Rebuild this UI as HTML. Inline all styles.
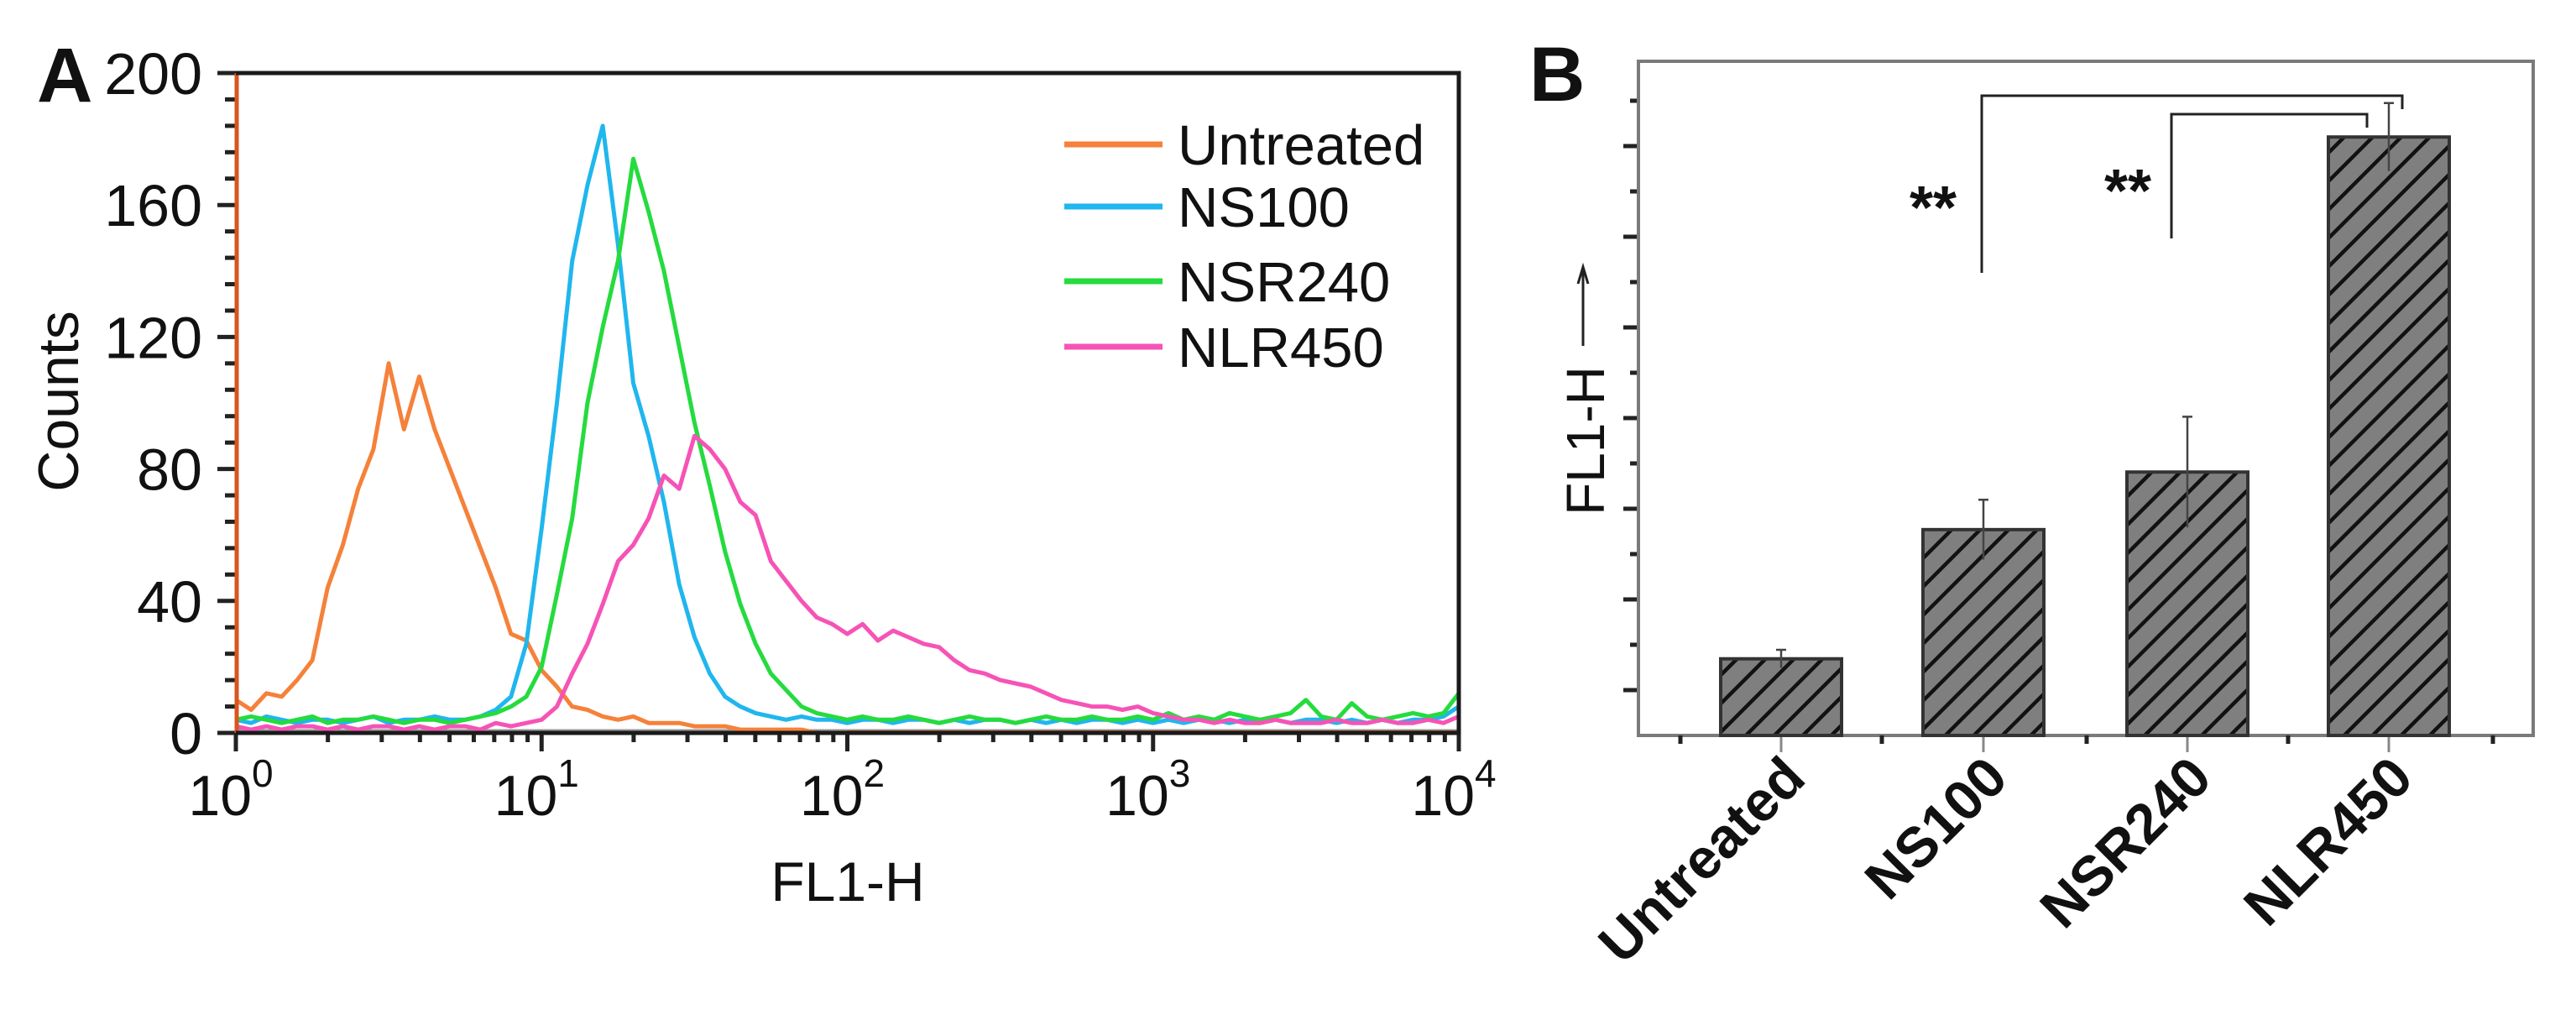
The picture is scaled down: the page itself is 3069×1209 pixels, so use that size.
<!DOCTYPE html>
<html><head><meta charset="utf-8"><style>
html,body{margin:0;padding:0;background:#fff;}
svg{display:block;}
text{font-family:"Liberation Sans",Arial,sans-serif;fill:#111;}
</style></head><body>
<svg id="fig" width="3069" height="1209" viewBox="0 0 3069 1209" xmlns="http://www.w3.org/2000/svg">
<defs>
<pattern id="hatch" patternUnits="userSpaceOnUse" width="24" height="24" patternTransform="rotate(45)">
<rect width="24" height="24" fill="#7f7f7f"/>
<line x1="0" y1="0" x2="0" y2="24" stroke="#111" stroke-width="9"/>
</pattern>
</defs>
<g id="panelA"></g>
<g id="panelB"></g>
</svg>
<script>
// ---------- Panel A data ----------
const logBins = [0,0.05,0.1,0.15,0.2,0.25,0.3,0.35,0.4,0.45,0.5,0.55,0.6,0.65,0.7,0.75,0.8,0.85,0.9,0.95,1,1.05,1.1,1.15,1.2,1.25,1.3,1.35,1.4,1.45,1.5,1.55,1.6,1.65,1.7,1.75,1.8,1.85,1.9,1.95,2,2.05,2.1,2.15,2.2,2.25,2.3,2.35,2.4,2.45,2.5,2.55,2.6,2.65,2.7,2.75,2.8,2.85,2.9,2.95,3,3.05,3.1,3.15,3.2,3.25,3.3,3.35,3.4,3.45,3.5,3.55,3.6,3.65,3.7,3.75,3.8,3.85,3.9,3.95,4];
const untreatedCounts = [10,7,12,11,16,22,44,57,74,86,112,92,108,92,80,68,56,44,30,28,19,14,8,7,5,4,5,3,3,3,2,2,2,1,1,1,1,1,0,0,0,0,0,0,0,0,0,0,0,0,0,0,0,0,0,0,0,0,0,0,0,0,0,0,0,0,0,0,0,0,0,0,0,0,0,0,0,0,0,0,0];
const ns100Counts = [4,3,5,4,3,4,4,3,4,5,3,4,4,5,4,4,5,7,11,27,62,100,143,166,184,148,106,90,70,45,29,18,11,8,6,5,4,5,4,4,3,4,4,3,4,4,3,4,3,4,4,3,4,3,4,3,4,4,3,4,3,4,3,4,4,3,4,3,4,3,4,4,3,4,3,4,3,4,4,5,8];
const nsr240Counts = [4,5,4,3,4,5,3,4,4,5,4,3,4,4,3,4,5,6,8,11,20,42,65,100,123,143,174,158,140,117,94,75,55,39,27,18,13,8,6,5,4,5,4,4,5,4,3,4,5,4,4,3,4,5,4,4,5,4,4,5,4,6,4,5,4,6,5,4,5,6,10,5,4,9,5,4,5,6,5,6,12];
const nlr450Counts = [2,1,2,1,2,2,1,2,1,2,2,1,2,1,2,2,1,3,2,3,4,8,18,27,39,52,57,65,78,74,90,86,80,70,66,52,46,40,35,33,30,33,28,31,29,27,26,22,19,18,16,15,14,12,10,9,8,8,7,8,6,5,4,4,3,4,3,3,4,3,3,3,4,3,3,4,3,3,4,3,5];
const seriesNames = ["Untreated","NS100","NSR240","NLR450"];
const countTicks = [0,40,80,120,160,200];
const decadeTicks = [0,1,2,3,4];

// ---------- Panel B data ----------
const barCategories = ["Untreated","NS100","NSR240","NLR450"];
const barValues = [1.69,4.54,5.81,13.2];
const barErrors = [0.2,0.66,1.22,0.75];
const sigLabels = ["**","**"];

const NS="http://www.w3.org/2000/svg";
function mk(tag,attrs,parent,txt){const e=document.createElementNS(NS,tag);for(const k in attrs)e.setAttribute(k,attrs[k]);if(txt!==undefined)e.textContent=txt;parent.appendChild(e);return e;}

// ===== Panel A =====
const A=document.getElementById('panelA');
const aL=281,aR=1738,aT=87,aB=873;
const xA=l=>aL+(aR-aL)*l/4;
const yA=c=>aB-(aB-aT)*c/200;

for(let v=0;v<=200;v+=8){
  const t=mk('line',{x1:(v%40===0)?aL-22:aL-13,x2:aL,y1:yA(v),y2:yA(v),stroke:'#222','stroke-width':5},A);
  
  
}
countTicks.forEach(v=>{
  const t=mk('text',{x:241,y:yA(v)+25,'text-anchor':'end','font-size':70},A,String(v));
  
  
});
for(let d=0;d<4;d++){
  for(let m=2;m<=9;m++){
    const l=d+Math.log10(m);
    const t=mk('line',{x1:xA(l),x2:xA(l),y1:aB,y2:aB+11,stroke:'#222','stroke-width':5},A);
    
    
  }
}
decadeTicks.forEach(d=>{
  const t=mk('line',{x1:xA(d),x2:xA(d),y1:aB,y2:aB+22,stroke:'#222','stroke-width':5},A);
  
  
  const tx=mk('text',{x:xA(d)-6,y:971,'text-anchor':'middle','font-size':68},A);
  
  
  mk('tspan',{},tx,'10');
  mk('tspan',{dy:-34,'font-size':46},tx,String(d));
});
const zl=mk('line',{x1:aL,x2:aR,y1:aB-2,y2:aB-2,stroke:'#999','stroke-width':5},A);



const colors=['#f5813a','#20b6ee','#25db3e','#f653b6'];
const allSeries=[untreatedCounts,ns100Counts,nsr240Counts,nlr450Counts];
allSeries.forEach((s,i)=>{
  const pts=logBins.map((l,j)=>xA(l).toFixed(1)+','+yA(s[j]).toFixed(1)).join(' ');
  const p=mk('polyline',{points:pts,fill:'none',stroke:colors[i],'stroke-width':5,'stroke-linejoin':'round'},A);
  
  
});
const ov=mk('line',{x1:aL+1,x2:aL+1,y1:aB,y2:aT,stroke:'#d9541e','stroke-width':5},A);


const ob=mk('line',{x1:xA(2),x2:aR,y1:aB-1,y2:aB-1,stroke:'#c9561f','stroke-width':4},A);



const fr=mk('path',{d:`M${aL},${aB} L${aR},${aB} L${aR},${aT} L${aL},${aT}`,fill:'none',stroke:'#1a1a1a','stroke-width':5},A);



const legY=[172,246,335,413];
seriesNames.forEach((n,i)=>{
  const g=mk('g',{},A);
  
  
  mk('line',{x1:1268,x2:1385,y1:legY[i],y2:legY[i],stroke:colors[i],'stroke-width':7},g);
  mk('text',{x:1403,y:legY[i]+24,'font-size':67},g,n);
});
let t;
t=mk('text',{x:44,y:121,'font-size':92,'font-weight':'bold'},A,'A');

t=mk('text',{x:1010,y:1073,'text-anchor':'middle','font-size':66},A,'FL1-H');

t=mk('text',{x:0,y:0,'text-anchor':'middle','font-size':68,transform:'translate(93,478) rotate(-90)'},A,'Counts');


// ===== Panel B =====
const B=document.getElementById('panelB');
const bL=1952,bR=3018,bT=73,bB=876;
const unit=54;
const yB=v=>bB-v*unit;
const centers=[2122,2363,2606,2846];
const bw=144;
for(let k=1;k*unit<bB-bT;k++){
  const tk=mk('line',{x1:(k%2===1)?bL-18:bL-10,x2:bL,y1:yB(k),y2:yB(k),stroke:'#222','stroke-width':5},B);
  
  
}
const bf=mk('rect',{x:bL,y:bT,width:bR-bL,height:bB-bT,fill:'none',stroke:'#7a7a7a','stroke-width':4},B);


[2002,2242,2486,2726,2970].forEach(x=>{
  const tk=mk('line',{x1:x,x2:x,y1:bB,y2:bB+10,stroke:'#222','stroke-width':5},B);
  
  
});
barCategories.forEach((c,i)=>{
  const cx=centers[i];
  const tk=mk('line',{x1:cx,x2:cx,y1:bB,y2:bB+20,stroke:'#888','stroke-width':3},B);
  
  
  const r=mk('rect',{x:cx-bw/2,y:yB(barValues[i]),width:bw,height:bB-yB(barValues[i]),fill:'url(#hatch)',stroke:'#333','stroke-width':4},B);
  
  
  const eb=mk('path',{d:`M${cx},${yB(barValues[i]-barErrors[i])} L${cx},${yB(barValues[i]+barErrors[i])} M${cx-6},${yB(barValues[i]+barErrors[i])} L${cx+6},${yB(barValues[i]+barErrors[i])}`,stroke:'#444','stroke-width':2.5,fill:'none'},B);
  
  
  const lb=mk('text',{x:0,y:0,'text-anchor':'end','font-size':67,'font-weight':'bold',transform:`translate(${cx+32},${930}) rotate(-45)`},B,c);
  
  
});
const br1=mk('path',{d:`M${centers[1]-2},325 L${centers[1]-2},114 L2862,114 L2862,130`,fill:'none',stroke:'#222','stroke-width':3},B);


const br2=mk('path',{d:`M2587,284 L2587,136 L2820,136 L2820,152`,fill:'none',stroke:'#222','stroke-width':3},B);


t=mk('text',{x:2303,y:272,'text-anchor':'middle','font-size':72,'font-weight':'bold'},B,sigLabels[0]);

t=mk('text',{x:2535,y:252,'text-anchor':'middle','font-size':72,'font-weight':'bold'},B,sigLabels[1]);

t=mk('text',{x:1822,y:120,'font-size':92,'font-weight':'bold'},B,'B');

t=mk('text',{x:0,y:0,'text-anchor':'middle','font-size':64,transform:'translate(1911,525) rotate(-90)'},B,'FL1-H');

const ar=mk('path',{d:'M1886,412 L1886,322 M1880,338 L1886,318 L1892,338',fill:'none',stroke:'#222','stroke-width':3},B);


</script>
</body></html>
